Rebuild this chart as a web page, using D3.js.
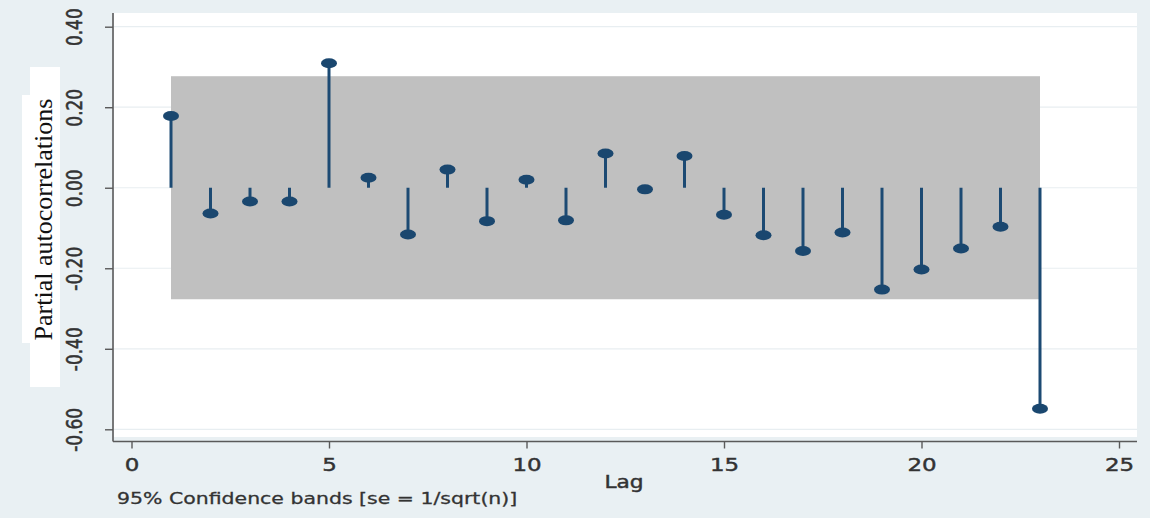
<!DOCTYPE html>
<html>
<head>
<meta charset="utf-8">
<script src="https://cdn.jsdelivr.net/npm/d3@7"></script>
<style>
  body { margin: 0; background: #e9f0f3; }
  svg { display: block; }
</style>
</head>
<body>
<div id="container"></div>
<script>
// data
let lags = [1, 2, 3, 4, 5, 6, 7, 8, 9, 10, 11, 12, 13, 14, 15, 16, 17, 18, 19, 20, 21, 22, 23];
let pacf = [0.178, -0.064, -0.034, -0.034, 0.309, 0.025, -0.116, 0.045, -0.083, 0.020,
            -0.081, 0.085, -0.004, 0.079, -0.067, -0.118, -0.157, -0.111, -0.253, -0.203,
            -0.151, -0.097, -0.549];
let bandLimit = 0.277;   // 95% band, se = 1/sqrt(n)
let xTicks = [0, 5, 10, 15, 20, 25];
let yTicks = [0.4, 0.2, 0, -0.2, -0.4, -0.6];

let data = lags.map(function(d, i){ return {lag: d, value: pacf[i]}; });

let w = 1150;
let h = 518;
let stretch = 1.24; // the original picture is a bit wider than tall

let viz = d3.select("#container")
  .append("svg")
    .attr("width", w)
    .attr("height", h)
;

// background + white plot region
viz.append("rect").attr("width", w).attr("height", h).attr("fill", "#e9f0f3");
viz.append("rect")
  .attr("x", 114).attr("y", 13)
  .attr("width", 1137 - 114).attr("height", 437 - 13)
  .attr("fill", "#ffffff");

let xScale = d3.scaleLinear().domain([0, 25]).range([131.5, 1119]);
let yScale = d3.scaleLinear().domain([-0.6, 0.4]).range([429.3, 26.7]);

// faint gridlines
viz.append("g").selectAll("line").data(yTicks).enter()
  .append("line")
    .attr("x1", 114).attr("x2", 1137)
    .attr("y1", d => yScale(d)).attr("y2", d => yScale(d))
    .attr("stroke", "#e8eef1")
    .attr("stroke-width", 1.2);

// confidence band between first and last lag
viz.append("rect")
  .attr("x", xScale(d3.min(lags)))
  .attr("width", xScale(d3.max(lags)) - xScale(d3.min(lags)))
  .attr("y", yScale(bandLimit))
  .attr("height", yScale(-bandLimit) - yScale(bandLimit))
  .attr("fill", "#c0c0c0");

// spikes
let graphGroup = viz.append("g").classed("graphGroup", true);
let points = graphGroup.selectAll(".datapoint").data(data).enter()
  .append("g").classed("datapoint", true)
  .attr("transform", d => "translate(" + xScale(d.lag) + ",0)");

points.append("line")
  .attr("y1", yScale(0))
  .attr("y2", d => yScale(d.value))
  .attr("stroke", "#1c4a73")
  .attr("stroke-width", 3);

points.append("ellipse")
  .attr("cy", d => yScale(d.value))
  .attr("rx", 8)
  .attr("ry", 5)
  .attr("fill", "#1a476f");

// text is a little heavy in the original (blurry scan)
function heavy(sel){
  sel.attr("font-family", "DejaVu Sans")
    .attr("fill", "#333")
    .attr("stroke", "#333")
    .attr("stroke-width", 0.45);
}

// y axis
let yAxis = d3.axisLeft(yScale).tickValues(yTicks).tickFormat(d => d.toFixed(2)).tickSizeOuter(0).tickSize(8);
let yAxisGroup = viz.append("g").attr("transform", "translate(113,0)").call(yAxis);
yAxisGroup.select(".domain").attr("d", "M0,13V441.5").attr("stroke", "#5a5a5a").attr("stroke-width", 1.6);
yAxisGroup.selectAll(".tick line").attr("stroke", "#5a5a5a").attr("stroke-width", 1.4);
yAxisGroup.selectAll("text")
  .attr("x", null).attr("dy", null)
  .attr("text-anchor", "middle")
  .attr("transform", "translate(-31,0) scale(" + stretch + ",1) rotate(-90)")
  .attr("font-size", 17)
  .call(heavy);

// x axis
let xAxis = d3.axisBottom(xScale).tickValues(xTicks).tickSizeOuter(0).tickSize(7);
let xAxisGroup = viz.append("g").attr("transform", "translate(0,441.5)").call(xAxis);
xAxisGroup.select(".domain").attr("d", "M113,0H1137").attr("stroke", "#5a5a5a").attr("stroke-width", 1.6);
xAxisGroup.selectAll(".tick line").attr("stroke", "#5a5a5a").attr("stroke-width", 1.4);
xAxisGroup.selectAll("text")
  .attr("y", null).attr("dy", null)
  .attr("text-anchor", "middle")
  .attr("transform", "translate(0,29.5) scale(" + stretch + ",1)")
  .attr("font-size", 18.5)
  .call(heavy);

viz.append("text")
  .attr("text-anchor", "middle")
  .attr("transform", "translate(624,488) scale(" + stretch + ",1)")
  .attr("font-size", 17.5)
  .call(heavy)
  .text("Lag");

viz.append("text")
  .attr("transform", "translate(117,504) scale(" + stretch + ",1)")
  .attr("font-size", 16.5)
  .call(heavy)
  .attr("stroke-width", 0.3)
  .text("95% Confidence bands [se = 1/sqrt(n)]");

// y title sits on pasted white patches
viz.append("rect").attr("x", 30).attr("y", 67).attr("width", 30).attr("height", 320).attr("fill", "#ffffff");
viz.append("rect").attr("x", 22).attr("y", 95).attr("width", 38).attr("height", 248).attr("fill", "#ffffff");
viz.append("text")
  .attr("text-anchor", "middle")
  .attr("transform", "translate(52,219.5) rotate(-90)")
  .attr("font-family", "Liberation Serif")
  .attr("font-size", 26)
  .attr("fill", "#111")
  .text("Partial autocorrelations");
</script>
</body>
</html>
